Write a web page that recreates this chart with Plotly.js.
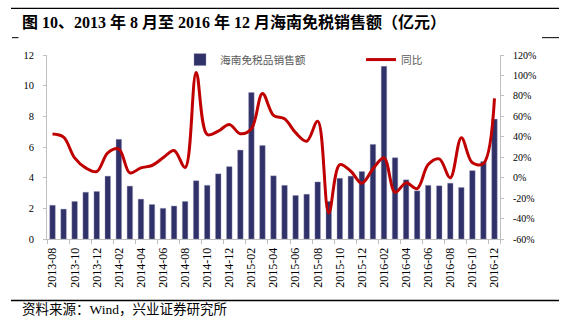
<!DOCTYPE html>
<html>
<head>
<meta charset="utf-8">
<script src="https://cdn.plot.ly/plotly-3.0.1.min.js"></script>
<style>html,body{margin:0;padding:0;background:#fff;}#chart{width:570px;height:323px;}</style>
</head>
<body>
<div id="chart"></div>
<script>
const months = ["2013-08","2013-09","2013-10","2013-11","2013-12","2014-01","2014-02","2014-03","2014-04","2014-05","2014-06","2014-07","2014-08","2014-09","2014-10","2014-11","2014-12","2015-01","2015-02","2015-03","2015-04","2015-05","2015-06","2015-07","2015-08","2015-09","2015-10","2015-11","2015-12","2016-01","2016-02","2016-03","2016-04","2016-05","2016-06","2016-07","2016-08","2016-09","2016-10","2016-11","2016-12"];
const sales = [2.2,1.95,2.45,3.05,3.1,4.1,6.5,3.45,2.6,2.25,2.0,2.15,2.45,3.8,3.5,4.25,4.72,5.8,9.55,6.1,4.12,3.5,2.84,2.92,3.72,2.45,3.96,4.1,4.4,6.17,11.26,5.3,3.86,3.14,3.5,3.47,3.64,3.36,4.46,5.05,7.82];
const yoy = [42.6,39.6,19.4,9.6,6,24.3,28,4.7,9.6,11.9,19.4,26.6,10,103,42.2,45.5,52,43,47.8,82.4,60.9,57.6,44,35.7,55.3,-34.5,12.8,6.3,-5.5,8.5,19.4,-14.3,-5.1,-10.7,12.8,18.4,-0.2,39,14.5,13.8,77.5];
const xTickLabels = months.filter((m, i) => i % 2 === 0);
const yTickVals = [0,2,4,6,8,10,12];
const y2TickVals = [-60,-40,-20,0,20,40,60,80,100,120];
const y2TickText = ["-60%","-40%","-20%","0%","20%","40%","60%","80%","100%","120%"];
const titleText = "图 10、2013 年 8 月至 2016 年 12 月海南免税销售额（亿元）";
const sourceText = "资料来源：Wind，兴业证券研究所";
const seriesNames = ["海南免税品销售额", "同比"];

// plot area in px: left 47, right 500, top 55, bottom 239.3
const L = 47, R = 500, T = 54.7, B = 239.3;
const px2x = p => (p - L) / (R - L);
const px2y = p => (B - p) / (B - T);

const serif = "'Liberation Serif', 'Noto Sans CJK SC', serif";
const cjk = "'Noto Sans CJK SC', sans-serif";

const traces = [
  {
    type: "bar", x: months, y: sales, name: seriesNames[0],
    marker: {color: "#31316A", line: {color: "#9a9ab8", width: 0.4}},
    yaxis: "y"
  },
  {
    type: "scatter", mode: "lines", x: months, y: yoy, name: seriesNames[1],
    line: {color: "#C00000", width: 3, shape: "spline", smoothing: 1},
    yaxis: "y2"
  }
];

const layout = {
  width: 570, height: 323,
  margin: {l: L, r: 570 - R, t: T, b: 323 - B},
  paper_bgcolor: "#fff", plot_bgcolor: "#fff",
  font: {family: serif, size: 10.5, color: "#000"},
  bargap: 0.5,
  showlegend: true,
  legend: {
    orientation: "h", x: px2x(180), xanchor: "left", y: px2y(59.3), yanchor: "middle",
    font: {family: cjk, size: 10.7, color: "#595959"},
    bgcolor: "rgba(0,0,0,0)", entrywidth: 136, traceorder: "normal"
  },
  xaxis: {
    type: "category", range: [-0.5, 40.5],
    tickvals: xTickLabels, ticktext: xTickLabels, tickangle: -90,
    tickson: "boundaries", ticks: "outside", ticklen: 4, tickcolor: "#BFBFBF",
    showline: true, linecolor: "#BFBFBF", linewidth: 1, showgrid: false, zeroline: false,
    tickfont: {family: serif, size: 12, color: "#000"}, ticklabelstandoff: 3, fixedrange: true
  },
  yaxis: {
    range: [0, 12], tickvals: yTickVals, ticks: "outside", ticklen: 3, tickcolor: "#BFBFBF",
    showline: true, linecolor: "#BFBFBF", linewidth: 1, showgrid: false, zeroline: false,
    tickfont: {family: serif, size: 10.5, color: "#000"}, ticklabelstandoff: 7
  },
  yaxis2: {
    range: [-60, 120], overlaying: "y", side: "right",
    tickvals: y2TickVals, ticktext: y2TickText, ticks: "outside", ticklen: 3, tickcolor: "#BFBFBF",
    showline: true, linecolor: "#BFBFBF", linewidth: 1, showgrid: false, zeroline: false,
    tickfont: {family: serif, size: 10, color: "#000"}, ticklabelstandoff: 7
  },
  annotations: [
    {text: "<b>" + titleText + "</b>", xref: "paper", yref: "paper", x: px2x(20), y: px2y(21.5),
     xanchor: "left", yanchor: "middle", showarrow: false,
     font: {family: serif, size: 16, color: "#000"}},
    {text: sourceText, xref: "paper", yref: "paper", x: px2x(20), y: px2y(310),
     xanchor: "left", yanchor: "middle", showarrow: false,
     font: {family: serif, size: 13.5, color: "#000"}}
  ],
  shapes: [
    {type: "line", xref: "paper", yref: "paper", x0: px2x(11), x1: px2x(559), y0: px2y(8), y1: px2y(8), line: {color: "#000", width: 1.3}},
    {type: "line", xref: "paper", yref: "paper", x0: px2x(11), x1: px2x(559), y0: px2y(301), y1: px2y(301), line: {color: "#000", width: 1.3}},
    {type: "line", xref: "paper", yref: "paper", x0: px2x(12), x1: px2x(18.5), y0: px2y(37.3), y1: px2y(37.3), line: {color: "#000", width: 1}},
    {type: "line", xref: "paper", yref: "paper", x0: px2x(542), x1: px2x(559), y0: px2y(37.3), y1: px2y(37.3), line: {color: "#000", width: 1}}
  ]
};

Plotly.newPlot("chart", traces, layout, {staticPlot: true, displayModeBar: false});
</script>
</body>
</html>
